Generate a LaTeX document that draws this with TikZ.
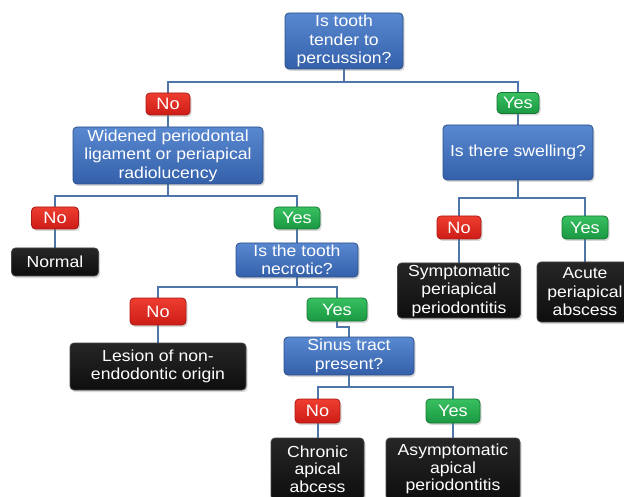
\documentclass[tikz,border=0pt]{standalone}
\usepackage{fontspec}
\setmainfont{Liberation Sans}[FakeStretch=1.1]
\usetikzlibrary{shadows,backgrounds}
\definecolor{qtop}{RGB}{88,136,208}
\definecolor{qbot}{RGB}{52,96,170}
\definecolor{qdraw}{RGB}{44,78,138}
\definecolor{rtop}{RGB}{238,62,48}
\definecolor{rbot}{RGB}{205,28,22}
\definecolor{rdraw}{RGB}{170,25,20}
\definecolor{gtop}{RGB}{56,192,96}
\definecolor{gbot}{RGB}{26,152,66}
\definecolor{gdraw}{RGB}{20,120,50}
\definecolor{ktop}{RGB}{38,38,38}
\definecolor{kbot}{RGB}{14,14,14}
\definecolor{kdraw}{RGB}{70,70,70}
\definecolor{linec}{RGB}{78,118,168}
\tikzset{
  basebox/.style={rounded corners=4pt, inner sep=0pt, align=center, text=white,
    font=\fontsize{16}{18.5}\selectfont, line width=0.8pt,
    drop shadow={shadow xshift=1.5pt, shadow yshift=-2pt, opacity=0.3}},
  qbox/.style={basebox, top color=qtop, bottom color=qbot, draw=qdraw},
  nobox/.style={basebox, top color=rtop, bottom color=rbot, draw=rdraw, font=\fontsize{16.5}{18}\selectfont},
  yesbox/.style={basebox, top color=gtop, bottom color=gbot, draw=gdraw, font=\fontsize{16.5}{18}\selectfont},
  leafbox/.style={basebox, top color=ktop, bottom color=kbot, draw=kdraw},
  lowleaf/.style={leafbox, font=\fontsize{16}{17.5}\selectfont},
  conn/.style={draw=linec, line width=2pt}
}
\begin{document}
\begin{tikzpicture}[x=1pt,y=-1pt]
\useasboundingbox (0,0) rectangle (624,497);
\clip (0,0) rectangle (624,497);

\node[qbox, minimum width=118pt, minimum height=56pt] (top) at (344,41) {Is tooth\\tender to\\percussion?};
\node[nobox, minimum width=44pt, minimum height=22pt] (no1) at (168,104) {No};
\node[yesbox, minimum width=42pt, minimum height=21pt] (yes1) at (518,103) {Yes};
\node[qbox, minimum width=190pt, minimum height=57pt] (wid) at (168,155.5) {Widened periodontal\\ligament or periapical\\radiolucency};
\node[qbox, minimum width=150pt, minimum height=55pt] (swell) at (518,152.5) {Is there swelling?};

\node[nobox, minimum width=47pt, minimum height=22pt] (no2) at (55,218) {No};
\node[yesbox, minimum width=46pt, minimum height=22pt] (yes2) at (297,218) {Yes};
\node[leafbox, minimum width=87pt, minimum height=28pt] (normal) at (55,262) {Normal};
\node[qbox, minimum width=122pt, minimum height=34pt] (necr) at (297,260) {Is the tooth\\necrotic?};

\node[nobox, minimum width=56pt, minimum height=27pt] (no3) at (158,311.5) {No};
\node[yesbox, minimum width=60pt, minimum height=23pt] (yes3) at (337,309.5) {Yes};
\node[leafbox, minimum width=176pt, minimum height=47pt] (lesion) at (158,366.5) {Lesion of non-\\endodontic origin};
\node[qbox, minimum width=130pt, minimum height=38pt] (sinus) at (349,356) {Sinus tract\\present?};

\node[nobox, minimum width=45pt, minimum height=24pt] (no4) at (317.5,411) {No};
\node[yesbox, minimum width=54pt, minimum height=24pt] (yes4) at (453,411) {Yes};
\node[lowleaf, minimum width=93pt, minimum height=62pt] (chron) at (317.5,469) {Chronic\\apical\\abcess};
\node[lowleaf, minimum width=134pt, minimum height=62pt] (asym) at (453,469) {Asymptomatic\\apical\\periodontitis};

\node[nobox, minimum width=44pt, minimum height=23pt] (no5) at (459,227.5) {No};
\node[yesbox, minimum width=46pt, minimum height=23pt] (yes5) at (585,227.5) {Yes};
\node[leafbox, minimum width=123pt, minimum height=55pt] (sympt) at (459,290.5) {Symptomatic\\periapical\\periodontitis};
\node[leafbox, minimum width=96pt, minimum height=60pt] (acute) at (585,292) {Acute\\periapical\\abscess};

\begin{scope}[on background layer]
\fill[white] (0,0) rectangle (624,497);
\coordinate (j1) at (344,82);
\coordinate (j2) at (168,196);
\coordinate (j3) at (297,287);
\coordinate (j4) at (349,387);
\coordinate (j5) at (518,198);
\draw[conn] (top.south) -- (j1) -| (no1.north);
\draw[conn] (j1) -| (yes1.north);
\draw[conn] (no1) -- (wid);
\draw[conn] (yes1) -- (swell);
\draw[conn] (wid.south) -- (j2) -| (no2.north);
\draw[conn] (j2) -| (yes2.north);
\draw[conn] (no2) -- (normal);
\draw[conn] (yes2) -- (necr);
\draw[conn] (necr.south) -- (j3) -| (no3.north);
\draw[conn] (j3) -| (yes3.north);
\draw[conn] (no3) -- (lesion);
\draw[conn] (yes3.south) -- ++(0,6) -| (sinus.north);
\draw[conn] (sinus.south) -- (j4) -| (no4.north);
\draw[conn] (j4) -| (yes4.north);
\draw[conn] (no4) -- (chron);
\draw[conn] (yes4) -- (asym);
\draw[conn] (swell.south) -- (j5) -| (no5.north);
\draw[conn] (j5) -| (yes5.north);
\draw[conn] (no5) -- (sympt);
\draw[conn] (yes5) -- (acute);
\end{scope}
\end{tikzpicture}
\end{document}
